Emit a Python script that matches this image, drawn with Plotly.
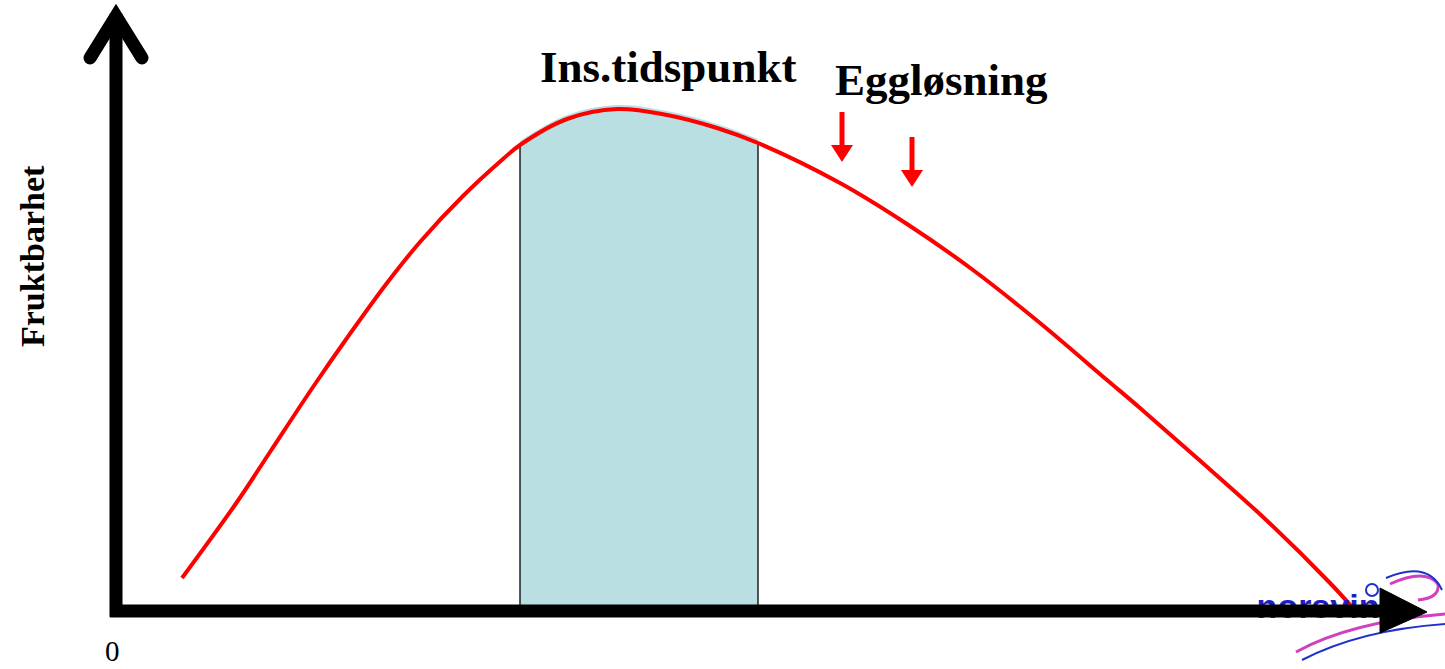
import plotly.graph_objects as go

# Kurve for fruktbarhet (x = tid, y = nivå; y-aksen er snudd slik at 0 er øverst)
tid = [182, 237, 270, 313, 347, 387, 420, 463, 503, 520, 567, 617, 667, 717, 758,
       840, 907, 973, 1040, 1107, 1140, 1197, 1263, 1330, 1352]
fruktbarhet = [578, 502, 452, 387, 338, 283, 242, 196, 159, 145, 119, 109, 115, 128, 143,
               183, 224, 270, 323, 380, 408, 458, 517, 583, 607]

# Inseminasjonsvindu og eggløsning
ins_start, ins_slutt = 520, 758
egg_x = [842, 912]
egg_topp = [112, 137]
egg_spiss = [162, 187]

grunnlinje = 611

fig = go.Figure()

# skyggelagt område under kurven i inseminasjonsvinduet
vx = [x for x in tid if ins_start <= x <= ins_slutt]
vy = [y for x, y in zip(tid, fruktbarhet) if ins_start <= x <= ins_slutt]
fig.add_trace(go.Scatter(x=[ins_start, ins_slutt], y=[grunnlinje, grunnlinje], mode="lines",
                         line=dict(width=0), hoverinfo="skip"))
fig.add_trace(go.Scatter(
    x=vx, y=[v - 4 for v in vy], fill="tonexty", fillcolor="#b9dfe3", mode="lines",
    line=dict(width=0, color="#b9dfe3", shape="spline", smoothing=1.0), hoverinfo="skip",
))
# tynne streker ved vinduets kanter
for x0, y0 in [(vx[0], vy[0]), (vx[-1], vy[-1])]:
    fig.add_trace(go.Scatter(x=[x0, x0], y=[y0, grunnlinje], mode="lines",
                             line=dict(color="black", width=1.3), hoverinfo="skip"))

fig.add_trace(go.Scatter(x=tid, y=fruktbarhet, mode="lines",
                         line=dict(color="#ff0000", width=4, shape="spline", smoothing=1.0),
                         hoverinfo="skip"))

# logo (bak aksepilen)
fig.add_trace(go.Scatter(x=[1318], y=[609], mode="text", text=["<b>norsvin</b>"],
                         textfont=dict(family="Arial", size=34, color="#1c1cc8"),
                         hoverinfo="skip"))

shapes = []
# logo-svinger
shapes.append(dict(type="path", path="M 1296 652 Q 1350 622 1445 614", line=dict(color="#d040c0", width=3), layer="below"))
shapes.append(dict(type="path", path="M 1302 660 Q 1360 630 1445 624", line=dict(color="#2030d0", width=2), layer="below"))
shapes.append(dict(type="path", path="M 1390 584 Q 1425 568 1438 584 Q 1440 598 1418 600", line=dict(color="#d040c0", width=3), layer="below"))
shapes.append(dict(type="path", path="M 1386 578 Q 1428 560 1442 590", line=dict(color="#2030d0", width=2), layer="below"))
shapes.append(dict(type="circle", x0=1366, x1=1378, y0=584, y1=596, line=dict(color="#2030d0", width=2), layer="below"))

# y-akse med åpen pilspiss
shapes.append(dict(type="line", x0=116, x1=116, y0=grunnlinje + 6, y1=14, line=dict(color="black", width=13), layer="above"))
shapes.append(dict(type="path", path="M 90 58 L 116 16 L 142 58", line=dict(color="black", width=13), layer="above"))
for cx in [90, 142]:
    shapes.append(dict(type="circle", x0=cx - 6.5, x1=cx + 6.5, y0=58 - 6.5, y1=58 + 6.5,
                       fillcolor="black", line=dict(width=0), layer="above"))
# x-akse med fylt pilspiss
shapes.append(dict(type="line", x0=110, x1=1390, y0=grunnlinje, y1=grunnlinje, line=dict(color="black", width=13), layer="above"))
shapes.append(dict(type="path", path="M 1380 588 L 1427 612 L 1380 633 Z", fillcolor="black", line=dict(color="black", width=1), layer="above"))

# røde piler for eggløsning
for x, t, s in zip(egg_x, egg_topp, egg_spiss):
    shapes.append(dict(type="line", x0=x, x1=x, y0=t, y1=s - 16, line=dict(color="#ff0000", width=5)))
    shapes.append(dict(type="path", path=f"M {x-11} {s-17} L {x+11} {s-17} L {x} {s} Z",
                       fillcolor="#ff0000", line=dict(width=0)))

fig.update_layout(shapes=shapes)

tekst = dict(family="Liberation Serif", color="black")
fig.add_annotation(x=668, y=67, text="<b>Ins.tidspunkt</b>", showarrow=False,
                   font=dict(size=45, **tekst))
fig.add_annotation(x=941, y=80, text="<b>Eggløsning</b>", showarrow=False,
                   font=dict(size=45, **tekst))
fig.add_annotation(x=32, y=256, text="<b>Fruktbarhet</b>", showarrow=False, textangle=-90,
                   font=dict(size=34, **tekst))
fig.add_annotation(x=112, y=668, yanchor="bottom", text="0", showarrow=False,
                   font=dict(size=29, **tekst), borderpad=0)

fig.update_layout(
    width=1445, height=669,
    margin=dict(l=0, r=0, t=0, b=0),
    paper_bgcolor="white", plot_bgcolor="white",
    showlegend=False,
    xaxis=dict(range=[0, 1445], visible=False, fixedrange=True),
    yaxis=dict(range=[669, 0], visible=False, fixedrange=True),
)

fig.write_html("out.html", config={"displayModeBar": False},
               post_script="document.body.style.margin='0';document.body.style.overflow='hidden';")
